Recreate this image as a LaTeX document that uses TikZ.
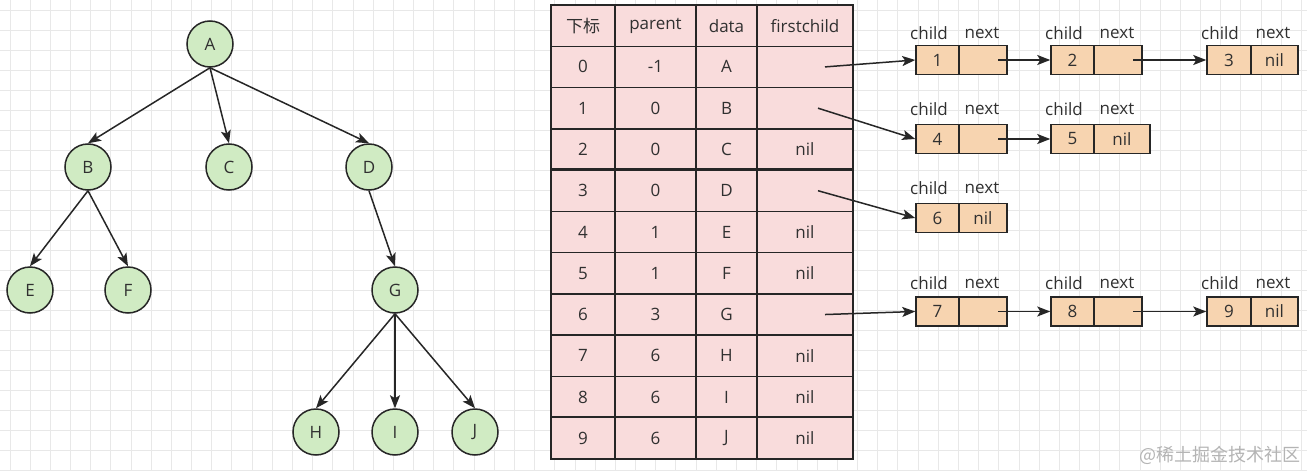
\documentclass[tikz,border=0pt]{standalone}
\usepackage{fontspec}
\setmainfont{Open Sans}
\newfontfamily\cjk{Noto Sans CJK SC}
\usetikzlibrary{arrows.meta}
\definecolor{treefill}{HTML}{D0EBC3}
\definecolor{tablefill}{HTML}{F9DCDC}
\definecolor{listfill}{HTML}{F7D4B0}
\definecolor{strokec}{HTML}{262626}
\definecolor{txt}{HTML}{303030}
\definecolor{gridc}{HTML}{E8E8E8}
\definecolor{wmark}{HTML}{B4B4B4}
\begin{document}
\begin{tikzpicture}[x=1pt,y=-1pt,
  tnode/.style={circle,draw=strokec,fill=treefill,line width=1.5pt,minimum size=46pt,inner sep=0pt,font=\fontsize{17}{20}\selectfont,text=txt},
  arr/.style={draw=strokec,line width=1.5pt,-{Stealth[length=13pt,width=10pt,inset=3pt]}},
  cell/.style={draw=strokec,fill=tablefill,line width=1.5pt,minimum height=41.27pt,inner sep=0pt,text=txt,font=\fontsize{17}{20}\selectfont},
  lbox/.style={draw=strokec,fill=listfill,line width=1.5pt,minimum height=29pt,inner sep=0pt,text=txt,font=\fontsize{17}{20}\selectfont},
  lc/.style={lbox,minimum width=43pt},
  ln/.style={lbox,minimum width=48pt},
  lab/.style={text=txt,font=\fontsize{17}{20}\selectfont,inner sep=0pt}]
\useasboundingbox (0,0) rectangle (1307,471);
\fill[white] (0,0) rectangle (1307,471);
% grid
\foreach \i in {0,...,64} \draw[gridc,line width=1pt] ({10+20.18*\i},0) -- ({10+20.18*\i},471);
\foreach \j in {0,...,23} \draw[gridc,line width=1pt] (0,{10+20*\j}) -- (1307,{10+20*\j});
% tree
\node[tnode] (A) at (210,44) {A};
\node[tnode] (B) at (88,167) {B};
\node[tnode] (C) at (229,167) {C};
\node[tnode] (D) at (369,167) {D};
\node[tnode] (E) at (30,290) {E};
\node[tnode] (F) at (128,290) {F};
\node[tnode] (G) at (395,290) {G};
\node[tnode] (H) at (316,432) {H};
\node[tnode] (I) at (395,432) {I};
\node[tnode] (J) at (475,432) {J};
\foreach \p/\c in {A/B,A/C,A/D,B/E,B/F,D/G,G/H,G/I,G/J}
  \draw[arr] (\p.south) -- (\c.north);
% table
\foreach \r/\a/\b/\c/\d in {0/{\cjk 下标}/parent/data/firstchild,1/0/-1/A/{},2/1/0/B/{},3/2/0/C/nil,4/3/0/D/{},5/4/1/E/nil,6/5/1/F/nil,7/6/3/G/{},8/7/6/H/nil,9/8/6/I/nil,10/9/6/J/nil}{
  \node[cell,minimum width=64pt] (cell-\r-1) at (583,{5+41.27*(\r+0.5)}) {\a};
  \node[cell,minimum width=81pt] (cell-\r-2) at (655.5,{5+41.27*(\r+0.5)}) {\b};
  \node[cell,minimum width=61pt] (cell-\r-3) at (726.5,{5+41.27*(\r+0.5)}) {\c};
  \node[cell,minimum width=96pt] (cell-\r-4) at (805,{5+41.27*(\r+0.5)}) {\d};
}
\draw[strokec,line width=2.8pt] (cell-4-1.north west) -- (cell-4-4.north east);
\draw[strokec,line width=2.8pt] (cell-10-1.north west) -- (cell-10-4.north east);
% linked lists
\node[lc] (l1c) at (937.5,60) {1};
\node[ln] (l1n) at (983,60) {};
\node[lc] (l2c) at (1072.5,60) {2};
\node[ln] (l2n) at (1118,60) {};
\node[lc,minimum width=44pt] (l3c) at (1229,60) {3};
\node[ln,minimum width=47pt] (l3n) at (1274.5,60) {nil};
\node[lc] (l4c) at (937.5,139) {4};
\node[ln] (l4n) at (983,139) {};
\node[lc] (l5c) at (1072.5,139) {5};
\node[ln,minimum width=56pt] (l5n) at (1122,139) {nil};
\node[lc] (l6c) at (937.5,218) {6};
\node[ln] (l6n) at (983,218) {nil};
\node[lc] (l7c) at (937.5,311.5) {7};
\node[ln] (l7n) at (983,311.5) {};
\node[lc] (l8c) at (1072.5,311.5) {8};
\node[ln] (l8n) at (1118,311.5) {};
\node[lc,minimum width=44pt] (l9c) at (1229,311.5) {9};
\node[ln,minimum width=47pt] (l9n) at (1274.5,311.5) {nil};
% labels
\foreach \y in {33,283}{
  \node[lab] at (929,\y) {child}; \node[lab] at (982,\y) {next};
  \node[lab] at (1064,\y) {child}; \node[lab] at (1117,\y) {next};
  \node[lab] at (1220,\y) {child}; \node[lab] at (1273,\y) {next};
}
\node[lab] at (929,109) {child}; \node[lab] at (982,109) {next};
\node[lab] at (1064,109) {child}; \node[lab] at (1117,109) {next};
\node[lab] at (929,188) {child}; \node[lab] at (982,188) {next};
% connectors
\draw[arr] ([xshift=20pt]cell-1-4.center) -- (l1c.west);
\draw[arr] ([xshift=13pt]cell-2-4.center) -- (l4c.west);
\draw[arr] ([xshift=13pt]cell-4-4.center) -- (l6c.west);
\draw[arr] ([xshift=20pt]cell-7-4.center) -- (l7c.west);
\draw[arr] ([xshift=15pt]l1n.center) -- (l2c.west);
\draw[arr] ([xshift=15pt]l2n.center) -- (l3c.west);
\draw[arr] ([xshift=15pt]l4n.center) -- (l5c.west);
\draw[arr] ([xshift=15pt]l7n.center) -- (l8c.west);
\draw[arr] ([xshift=15pt]l8n.center) -- (l9c.west);
% watermark
\node[text=wmark,font=\cjk\fontsize{18}{20}\selectfont,inner sep=0pt] (wm) at (1220,455) {@稀土掘金技术社区};
\end{tikzpicture}
\end{document}
